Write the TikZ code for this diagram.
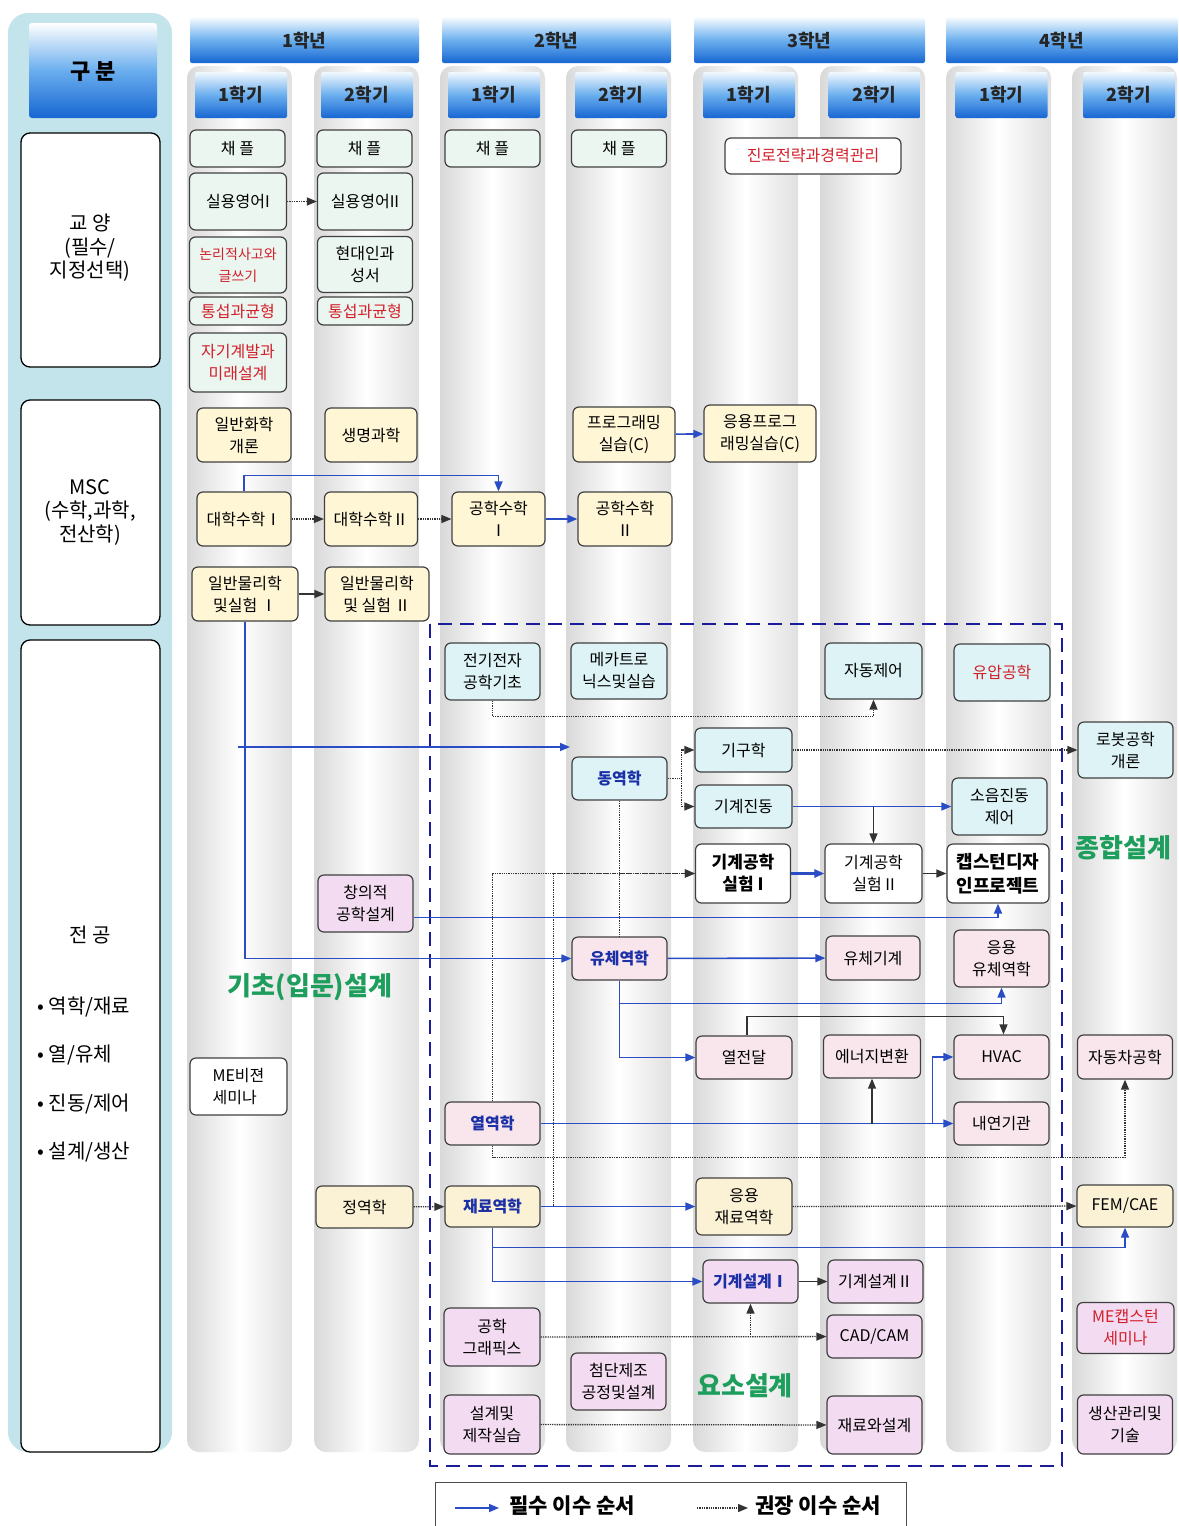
\documentclass[tikz,border=0pt]{standalone}
\usepackage{fontspec}
\setmainfont{Noto Sans CJK KR}
\usepackage{tikz}
\usepackage{xcolor}
\usetikzlibrary{arrows}
\usetikzlibrary{arrows.meta}
\usetikzlibrary {positioning}
\definecolor{panelblue}{HTML}{C3E4EB}
\definecolor{hdtop}{HTML}{F2F9FE}
\definecolor{hdmid}{HTML}{6AAEEE}
\definecolor{hdbot}{HTML}{1766D2}
\definecolor{geFill}{HTML}{EAF6EF}
\definecolor{mscFill}{HTML}{FFF6D5}
\definecolor{cyFill}{HTML}{DDF3F6}
\definecolor{pkFill}{HTML}{F8E6EC}
\definecolor{lvFill}{HTML}{F3DBF1}
\definecolor{ylFill}{HTML}{FBF2D6}
\definecolor{redtxt}{HTML}{D31F2A}
\definecolor{bluetxt}{HTML}{1B2FA6}
\definecolor{mustblue}{HTML}{2A4CC4}
\definecolor{dashnavy}{HTML}{1A1C9C}
\definecolor{designgreen}{HTML}{1E9E5C}
\tikzset{main node/.style={draw=black!75,line width=1.2pt,rounded corners=6pt,align=center,inner sep=0pt,font=\fontsize{16}{22}\selectfont}}
\tikzset{ge node/.style={main node,fill=geFill}}
\tikzset{msc node/.style={main node,fill=mscFill}}
\tikzset{cy node/.style={main node,fill=cyFill}}
\tikzset{pk node/.style={main node,fill=pkFill}}
\tikzset{lv node/.style={main node,fill=lvFill}}
\tikzset{yl node/.style={main node,fill=ylFill}}
\tikzset{wh node/.style={main node,fill=white}}
\tikzset{key node/.style={font=\fontsize{16}{22}\selectfont\bfseries,text=bluetxt}}
\tikzset{year head/.style={draw=none,rounded corners=2pt,top color=hdtop,bottom color=hdbot,middle color=hdmid,font=\fontsize{18}{20}\selectfont\bfseries,text=black!85}}
\tikzset{side box/.style={draw=black,line width=1.3pt,fill=white,rounded corners=9pt}}
\tikzset{side text/.style={align=center,font=\fontsize{20}{23.5}\selectfont}}
\tikzset{design label/.style={font=\fontsize{26}{28}\selectfont\bfseries,text=designgreen}}
\tikzset{must edge/.style={draw=mustblue,line width=1.6pt,-{Triangle[length=10pt,width=8pt]}}}
\tikzset{rec edge/.style={draw=black!80,densely dotted,line width=1.3pt,-{Triangle[length=10pt,width=8pt]}}}
\tikzset{plain edge/.style={draw=black!80,line width=1.3pt,-{Triangle[length=10pt,width=8pt]}}}

\begin{document}
\begin{tikzpicture}[x=1pt,y=-1pt]
    \useasboundingbox[fill=white] (0,0) rectangle (1178,1526);

    % left panel
    \fill[panelblue,rounded corners=20pt] (8,13) rectangle (172,1452);
    \shade[rounded corners=3pt,top color=white,bottom color=hdbot,middle color=hdmid] (29,23) rectangle (157,118);
    \node[font=\fontsize{22}{24}\selectfont\bfseries] (gubun) at (93,72) {구 분};
    \draw[side box] (21,133) rectangle (160,367);
    \draw[side box] (21,400) rectangle (160,625);
    \draw[side box] (21,640) rectangle (160,1452);
    \node[side text] (gyoyang) at (90,248) {교 양\\(필수/\\지정선택)};
    \node[side text] (msc) at (90,512) {MSC\\(수학,과학,\\전산학)};
    \node[side text] (major) at (90,935) {전 공};
    \node[align=left,anchor=north west,font=\fontsize{20}{48.5}\selectfont] (majlist) at (34,993) {• 역학/재료\\• 열/유체\\• 진동/제어\\• 설계/생산};

    % semester columns
    \foreach \xl in {187,314,440,566,693,820,946,1072}
        \shade[left color=gray!30,right color=gray!24,middle color=white,rounded corners=12pt] (\xl,66) rectangle (\xl+105,1452);

    % headers
    \node[year head,minimum width=229pt,minimum height=45pt] (yr1) at (304.5,40.5) {1학년};
    \node[year head,minimum width=229pt,minimum height=45pt] (yr2) at (556.5,40.5) {2학년};
    \node[year head,minimum width=231pt,minimum height=45pt] (yr3) at (809.5,40.5) {3학년};
    \node[year head,minimum width=232pt,minimum height=45pt] (yr4) at (1062,40.5) {4학년};
    \foreach \xc/\sem [count=\i] in {241/1학기,367/2학기,494/1학기,621/2학기,749/1학기,874.5/2학기,1001.5/1학기,1129/2학기}
        \node[year head,minimum width=92pt,minimum height=46pt] (sem\i) at (\xc,95) {\sem};

    % 교양
    \node[ge node,minimum width=95pt,minimum height=37pt] (chap1) at (237.5,148.5) {채 플};
    \node[ge node,minimum width=95pt,minimum height=37pt] (chap2) at (364.5,148.5) {채 플};
    \node[ge node,minimum width=95pt,minimum height=37pt] (chap3) at (492.5,148.5) {채 플};
    \node[ge node,minimum width=95pt,minimum height=37pt] (chap4) at (619,148.5) {채 플};
    \node[wh node,minimum width=176pt,minimum height=36pt,text=redtxt] (career) at (813,156) {진로전략과경력관리};
    \node[ge node,minimum width=97pt,minimum height=57pt] (eng1) at (238,201.5) {실용영어I};
    \node[ge node,minimum width=95pt,minimum height=57pt] (eng2) at (365,201.5) {실용영어II};
    \node[ge node,minimum width=97pt,minimum height=56pt,text=redtxt,font=\fontsize{14}{22}\selectfont] (logic) at (238,265) {논리적사고와\\글쓰기};
    \node[ge node,minimum width=95pt,minimum height=56pt] (modern) at (365,264.5) {현대인과\\성서};
    \node[ge node,minimum width=97pt,minimum height=28pt,text=redtxt] (bal1) at (238,311) {통섭과균형};
    \node[ge node,minimum width=95pt,minimum height=28pt,text=redtxt] (bal2) at (365,311) {통섭과균형};
    \node[ge node,minimum width=97pt,minimum height=59pt,text=redtxt] (self) at (238,362.5) {자기계발과\\미래설계};

    % MSC
    \node[msc node,minimum width=94pt,minimum height=54pt] (chem) at (244,435) {일반화학\\개론};
    \node[msc node,minimum width=92pt,minimum height=54pt] (bio) at (371,435) {생명과학};
    \node[msc node,minimum width=102pt,minimum height=55pt] (prog) at (624,434.5) {프로그래밍\\실습(C)};
    \node[msc node,minimum width=112pt,minimum height=57pt] (aprog) at (760,433.5) {응용프로그\\래밍실습(C)};
    \node[msc node,minimum width=94pt,minimum height=54pt] (math1) at (244,519) {대학수학Ⅰ};
    \node[msc node,minimum width=93pt,minimum height=54pt] (math2) at (371,519) {대학수학Ⅱ};
    \node[msc node,minimum width=93pt,minimum height=54pt] (emath1) at (498.5,519) {공학수학\\Ⅰ};
    \node[msc node,minimum width=94pt,minimum height=54pt] (emath2) at (625,519) {공학수학\\Ⅱ};
    \node[msc node,minimum width=106pt,minimum height=54pt] (phys1) at (245,594) {일반물리학\\및실험 Ⅰ};
    \node[msc node,minimum width=104pt,minimum height=54pt] (phys2) at (377,594) {일반물리학\\및 실험 Ⅱ};

    % 전공
    \node[cy node,minimum width=95pt,minimum height=57pt] (elec) at (492.5,671.5) {전기전자\\공학기초};
    \node[cy node,minimum width=96pt,minimum height=56pt] (mecha) at (619,671) {메카트로\\닉스및실습};
    \node[cy node,minimum width=97pt,minimum height=56pt] (autoc) at (873.5,671) {자동제어};
    \node[cy node,minimum width=96pt,minimum height=57pt,text=redtxt] (hydr) at (1002,672.5) {유압공학};
    \node[cy node,minimum width=97pt,minimum height=44pt] (kin) at (743.5,750) {기구학};
    \node[cy node,key node,minimum width=95pt,minimum height=43pt] (dyn) at (619.5,778.5) {동역학};
    \node[cy node,minimum width=97pt,minimum height=43pt] (vib) at (743.5,806.5) {기계진동};
    \node[cy node,minimum width=95pt,minimum height=56pt] (robot) at (1125.5,750) {로봇공학\\개론};
    \node[cy node,minimum width=95pt,minimum height=57pt] (noise) at (999.5,806.5) {소음진동\\제어};
    \node[wh node,minimum width=95pt,minimum height=59pt,font=\fontsize{17}{22}\selectfont\bfseries] (lab1) at (743,873.5) {기계공학\\실험 I};
    \node[wh node,minimum width=97pt,minimum height=59pt] (lab2) at (873.5,873.5) {기계공학\\실험 II};
    \node[wh node,minimum width=102pt,minimum height=59pt,font=\fontsize{18}{24}\selectfont\bfseries] (caps) at (998,873.5) {캡스턴디자\\인프로젝트};
    \node[lv node,minimum width=95pt,minimum height=57pt] (creat) at (365.5,903.5) {창의적\\공학설계};
    \node[pk node,key node,minimum width=95pt,minimum height=43pt] (fluid) at (619.5,958.5) {유체역학};
    \node[pk node,minimum width=94pt,minimum height=44pt] (fmach) at (873,958) {유체기계};
    \node[pk node,minimum width=95pt,minimum height=57pt] (afluid) at (1001.5,958.5) {응용\\유체역학};
    \node[pk node,minimum width=96pt,minimum height=43pt] (heat) at (744,1057.5) {열전달};
    \node[pk node,minimum width=97pt,minimum height=43pt] (energy) at (872,1056.5) {에너지변환};
    \node[pk node,minimum width=95pt,minimum height=44pt] (hvac) at (1001.5,1057) {HVAC};
    \node[pk node,minimum width=95pt,minimum height=44pt] (auto) at (1125,1057) {자동차공학};
    \node[wh node,minimum width=97pt,minimum height=57pt,align=left] (vision) at (238.5,1086.5) {ME비젼\\세미나};
    \node[pk node,key node,minimum width=95pt,minimum height=43pt] (thermo) at (492.5,1123.5) {열역학};
    \node[pk node,minimum width=95pt,minimum height=43pt] (ice) at (1001.5,1123.5) {내연기관};
    \node[yl node,minimum width=97pt,minimum height=42pt] (stat) at (364.5,1207) {정역학};
    \node[yl node,key node,minimum width=95pt,minimum height=41pt] (mat) at (492.5,1206.5) {재료역학};
    \node[yl node,minimum width=96pt,minimum height=57pt] (amat) at (744,1206.5) {응용\\재료역학};
    \node[yl node,minimum width=96pt,minimum height=42pt] (fem) at (1125,1206) {FEM/CAE};
    \node[lv node,minimum width=95pt,minimum height=43pt,font=\fontsize{16}{22}\selectfont\bfseries,text=bluetxt] (design1) at (750.5,1281.5) {기계설계Ⅰ};
    \node[lv node,minimum width=95pt,minimum height=43pt] (design2) at (875.5,1281.5) {기계설계Ⅱ};
    \node[lv node,minimum width=96pt,minimum height=58pt] (graph) at (492,1337) {공학\\그래픽스};
    \node[lv node,minimum width=95pt,minimum height=43pt] (cadcam) at (874.5,1336.5) {CAD/CAM};
    \node[lv node,minimum width=97pt,minimum height=51pt,text=redtxt] (capsem) at (1125.5,1328) {ME캡스턴\\세미나};
    \node[lv node,minimum width=95pt,minimum height=57pt] (mfg) at (618.5,1381.5) {첨단제조\\공정및설계};
    \node[lv node,minimum width=96pt,minimum height=59pt] (dmake) at (492,1424.5) {설계및\\제작실습};
    \node[lv node,minimum width=95pt,minimum height=58pt] (matdes) at (874.5,1425) {재료와설계};
    \node[lv node,minimum width=95pt,minimum height=59pt] (prod) at (1125,1424.5) {생산관리및\\기술};

    % design area
    \draw[dashnavy,line width=2.6pt,dash pattern=on 14pt off 8pt] (430,624) rectangle (1062,1466);
    \node[design label] (basic) at (310,987) {기초(입문)설계};
    \node[design label,anchor=west] (synth) at (1072,848) {종합설계};
    \node[design label] (element) at (745,1386) {요소설계};

    % 권장 이수 순서
    \draw[rec edge] (eng1) -- (eng2);
    \draw[rec edge] (math1) -- (math2);
    \draw[rec edge] (math2) -- (emath1);
    \draw[rec edge] (elec.south) -- ++(0,16) -| (autoc.south);
    \draw[rec edge,-] (dyn.east) -- ++(14,0) coordinate (dynfork);
    \draw[rec edge] (dynfork) |- (kin.west);
    \draw[rec edge] (dynfork) |- (vib.west);
    \draw[rec edge] (kin) -- (robot);
    \draw[rec edge,-] (dyn.south) -- (fluid.north);
    \draw[rec edge] (thermo.north) |- (lab1.west);
    \draw[rec edge] (mat.east) -- ++(13,0) |- (lab1.west);
    \draw[rec edge] (thermo.south) -- ++(0,12) -| (auto.south);
    \draw[rec edge] (stat) -- (mat);
    \draw[rec edge] (amat) -- (fem);
    \draw[rec edge] (graph) -- (cadcam);
    \draw[rec edge] (graph.east -| design1.south) -- (design1.south);
    \draw[rec edge] (dmake) -- (matdes);

    % 필수 이수 순서
    \draw[must edge] (emath1) -- (emath2);
    \draw[must edge] (math1.north) -- ++(0,-16) -| (emath1.north);
    \draw[must edge] (prog) -- (aprog);
    \draw[must edge] (phys1.south) |- (fluid.west);
    \coordinate (physbranch) at (238,747);
    \coordinate (dynin) at (570,747);
    \draw[must edge] (physbranch) -- (dynin);
    \draw[must edge] (vib) -- (noise);
    \draw[must edge,line width=2.6pt] (lab1) -- (lab2);
    \draw[must edge] ([yshift=-14pt]creat.east) -| (caps.south);
    \draw[must edge] (fluid) -- (fmach);
    \draw[must edge] (fluid.south) |- (heat.west);
    \draw[must edge] (fluid.south) ++(0,23) -| (afluid.south);
    \draw[must edge] (thermo) -- (ice);
    \draw[must edge] ([xshift=-21pt]ice.west) |- (hvac.west);
    \draw[must edge] (mat) -- (amat);
    \draw[must edge] (mat.south) |- (design1.west);
    \draw[must edge] (mat.south) ++(0,20) -| (fem.south);

    % solid black
    \draw[plain edge] (phys1) -- (phys2);
    \draw[plain edge] (lab2.north |- vib.east) -- (lab2.north);
    \draw[plain edge] (lab2) -- (caps);
    \draw[plain edge] (heat.north) ++(3,0) -- ++(0,-19) -| ([xshift=2pt]hvac.north);
    \draw[plain edge] (energy.south |- thermo.east) -- (energy.south);
    \draw[plain edge] (design1) -- (design2);

    % legend
    \draw[black!70,line width=1pt,fill=white] (435,1482) rectangle (906,1540);
    \coordinate (lgmust1) at (455,1508);
    \coordinate (lgmust2) at (499,1508);
    \coordinate (lgrec1) at (697,1508);
    \coordinate (lgrec2) at (748,1508);
    \draw[must edge] (lgmust1) -- (lgmust2);
    \draw[rec edge] (lgrec1) -- (lgrec2);
    \node[anchor=west,font=\fontsize{21}{23}\selectfont\bfseries] (lgmust) at (506,1506) {필수 이수 순서};
    \node[anchor=west,font=\fontsize{21}{23}\selectfont\bfseries] (lgrec) at (752,1506) {권장 이수 순서};
\end{tikzpicture}
\end{document}
